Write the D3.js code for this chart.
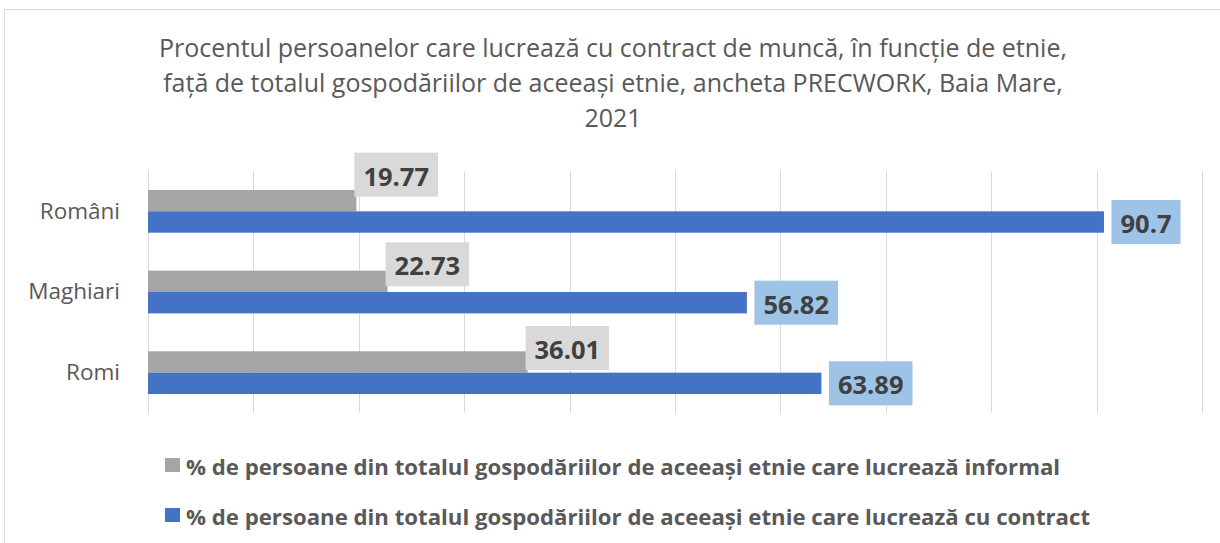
<!DOCTYPE html>
<html><head><meta charset="utf-8">
<script src="https://cdn.jsdelivr.net/npm/d3@7"></script>
<style>body{margin:0;background:#fff} svg{display:block}</style>
</head><body>
<svg id="c" width="1220" height="543"></svg>
<script>
// ---- data ----
const categories = ["Români", "Maghiari", "Romi"];
const informal = [19.77, 22.73, 36.01];
const contract = [90.7, 56.82, 63.89];
const seriesNames = [
  "% de persoane din totalul gospodăriilor de aceeași etnie care lucrează informal",
  "% de persoane din totalul gospodăriilor de aceeași etnie care lucrează cu contract"
];
const xTicks = [0, 10, 20, 30, 40, 50, 60, 70, 80, 90, 100];
const titleLines = [
  "Procentul persoanelor care lucrează cu contract de muncă, în funcție de etnie,",
  "față de totalul gospodăriilor de aceeași etnie, ancheta PRECWORK, Baia Mare,",
  "2021"
];

// ---- layout / style ----
const colors = ["#a5a5a5", "#4472c4"];
const labelFill = ["#d9d9d9", "#9dc3e6"];
const font = "'Open Sans', Lato, sans-serif";
const svg = d3.select("#c");

svg.append("rect").attr("x", 4.5).attr("y", 9.5).attr("width", 1300).attr("height", 700)
  .attr("fill", "#fff").attr("stroke", "#d9d9d9").attr("stroke-width", 1);

// title
svg.append("g").selectAll("text").data(titleLines).join("text")
  .attr("x", 613).attr("y", (d, i) => 57 + i * 34.8)
  .attr("text-anchor", "middle")
  .style("font-family", font).style("font-size", "25px").attr("fill", "#595959")
  .text(d => d);

const x = d3.scaleLinear().domain([0, 100]).range([148, 1202]);
const y0 = d3.scaleBand().domain(categories).range([171, 413]).paddingInner(0.47).paddingOuter(0.235);
const y1 = d3.scaleBand().domain([0, 1]).range([0, y0.bandwidth()]);

// gridlines
svg.append("g").selectAll("line").data(xTicks).join("line")
  .attr("x1", d => Math.round(x(d)) + 0.5).attr("x2", d => Math.round(x(d)) + 0.5)
  .attr("y1", 171).attr("y2", 413)
  .attr("stroke", "#d9d9d9").attr("stroke-width", 1);

// category labels
const yAxis = svg.append("g").attr("transform", "translate(148,0)")
  .call(d3.axisLeft(y0).tickSize(0).tickPadding(28));
yAxis.select(".domain").remove();
yAxis.selectAll("text").style("font-family", font).style("font-size", "22.5px").attr("fill", "#595959");

const series = [informal, contract];
const rows = [];
series.forEach((vals, s) => vals.forEach((v, i) => rows.push({ s, i, v, cat: categories[i] })));

// bars
svg.append("g").selectAll("rect").data(rows).join("rect")
  .attr("x", x(0))
  .attr("y", d => y0(d.cat) + y1(d.s))
  .attr("width", d => x(d.v) - x(0))
  .attr("height", y1.bandwidth())
  .attr("fill", d => colors[d.s]);

// data labels
const grayShift = [-26, -17, -14];
const lg = svg.append("g");
rows.forEach(d => {
  const g = lg.append("g");
  const t = g.append("text")
    .style("font-family", font).style("font-size", "25.5px").style("font-weight", "bold")
    .attr("fill", "#404040").attr("dominant-baseline", "central").text(d.v);
  const tw = t.node().getComputedTextLength();
  const bw = tw + 18, bh = 44;
  const cy = y0(d.cat) + y1(d.s) + y1.bandwidth() / 2 + (d.s === 0 ? grayShift[d.i] : 0);
  const bx = d.s === 0 ? x(d.v) - 2 : x(d.v) + 7.5;
  g.insert("rect", "text").attr("x", bx).attr("y", cy - bh / 2).attr("width", bw).attr("height", bh)
    .attr("fill", labelFill[d.s]);
  t.attr("x", bx + bw / 2).attr("y", cy + 1).attr("text-anchor", "middle");
});

// legend
const leg = svg.append("g").selectAll("g").data(seriesNames).join("g")
  .attr("transform", (d, i) => `translate(165,${465 + i * 50})`);
leg.append("rect").attr("x", 0).attr("y", -7).attr("width", 15).attr("height", 14)
  .attr("fill", (d, i) => colors[i]);
leg.append("text").attr("x", 21).attr("y", 1).attr("dominant-baseline", "central")
  .style("font-family", font).style("font-size", "22.2px").style("font-weight", "bold")
  .attr("fill", "#595959").text(d => d);
</script>
</body></html>
